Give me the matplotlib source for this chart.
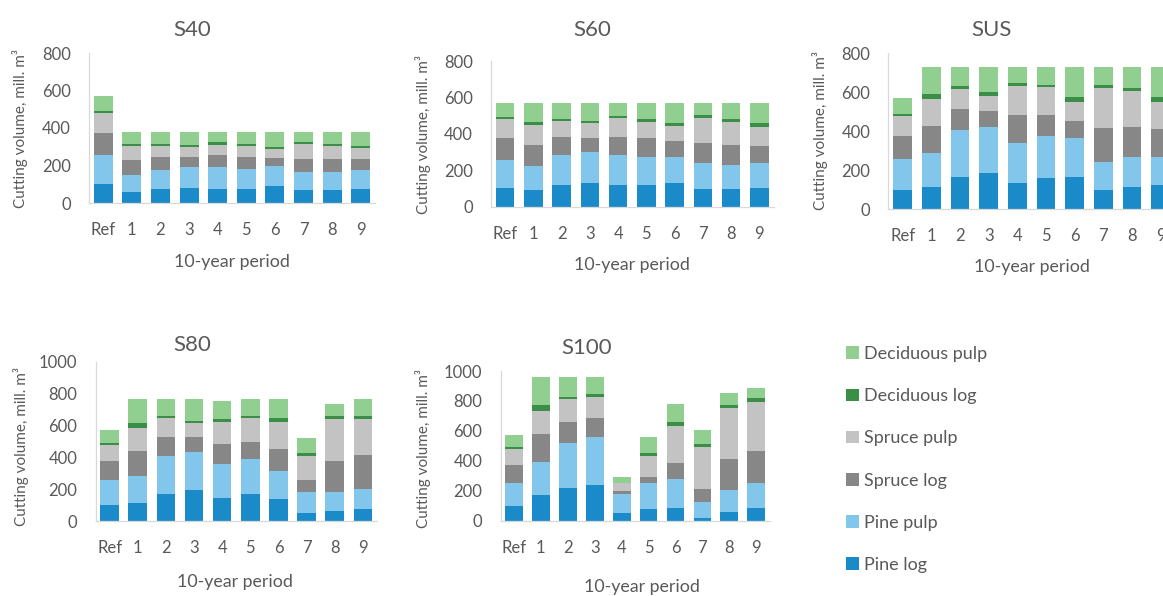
import matplotlib
matplotlib.use("Agg")
import matplotlib.pyplot as plt
import numpy as np

plt.rcParams['font.family'] = ['Lato', 'DejaVu Sans']

# ---- data (mill. m3 per 10-year period) ----
periods = ["Ref", "1", "2", "3", "4", "5", "6", "7", "8", "9"]
assortments = ["Pine log", "Pine pulp", "Spruce log", "Spruce pulp",
               "Deciduous log", "Deciduous pulp"]

s40_pine_log = [100, 60, 73, 82, 76, 76, 89, 68, 68, 76]
s40_pine_pulp = [155, 88, 105, 110, 116, 107, 107, 97, 97, 98]
s40_spruce_log = [120, 80, 67, 53, 62, 62, 44, 71, 71, 62]
s40_spruce_pulp = [105, 74, 57, 54, 57, 59, 48, 77, 68, 56]
s40_dec_log = [10, 11, 11, 10, 13, 11, 11, 12, 11, 10]
s40_dec_pulp = [80, 67, 67, 71, 56, 65, 81, 55, 65, 78]

s60_pine_log = [100, 92, 119, 128, 119, 119, 128, 99, 99, 104]
s60_pine_pulp = [155, 133, 165, 170, 165, 156, 147, 139, 130, 134]
s60_spruce_log = [120, 114, 100, 77, 100, 100, 85, 110, 110, 97]
s60_spruce_pulp = [105, 109, 88, 83, 101, 92, 83, 137, 128, 104]
s60_dec_log = [10, 18, 11, 12, 13, 12, 18, 18, 12, 19]
s60_dec_pulp = [80, 104, 87, 100, 72, 91, 109, 67, 91, 112]

sus_pine_log = [100, 115, 166, 183, 132, 161, 166, 98, 115, 123]
sus_pine_pulp = [155, 171, 240, 237, 205, 214, 197, 145, 154, 146]
sus_spruce_log = [120, 141, 106, 84, 146, 108, 91, 172, 154, 140]
sus_spruce_pulp = [105, 138, 103, 77, 149, 142, 98, 205, 183, 143]
sus_dec_log = [10, 26, 17, 19, 14, 14, 25, 17, 18, 25]
sus_dec_pulp = [80, 139, 98, 130, 84, 91, 153, 93, 106, 153]

s80_pine_log = [100, 111, 167, 195, 146, 167, 138, 52, 63, 73]
s80_pine_pulp = [155, 171, 241, 240, 212, 220, 176, 132, 121, 126]
s80_spruce_log = [120, 157, 121, 94, 125, 111, 136, 73, 193, 215]
s80_spruce_pulp = [105, 147, 115, 84, 140, 146, 173, 151, 263, 226]
s80_dec_log = [10, 31, 17, 17, 17, 17, 21, 17, 19, 21]
s80_dec_pulp = [80, 147, 103, 134, 113, 103, 120, 94, 73, 103]

s100_pine_log = [100, 171, 220, 238, 49, 76, 82, 16, 60, 82]
s100_pine_pulp = [155, 223, 301, 319, 129, 173, 196, 111, 145, 172]
s100_spruce_log = [120, 183, 140, 131, 22, 45, 105, 85, 205, 211]
s100_spruce_pulp = [105, 158, 150, 140, 52, 138, 252, 282, 340, 330]
s100_dec_log = [10, 38, 17, 16, 3, 18, 22, 16, 23, 27]
s100_dec_pulp = [80, 185, 130, 114, 39, 107, 122, 96, 78, 67]

colors = ["#1a8bc8", "#82c7eb", "#878787", "#c3c3c3", "#3b8e46", "#90cf90"]
text_color = "#595959"

W, H = 1163, 596
fig = plt.figure(figsize=(W / 100, H / 100), dpi=100)


def box(left, right, top, bottom):
    return [left / W, 1 - bottom / H, (right - left) / W, (bottom - top) / H]


panels = [
    dict(name="S40", series=[s40_pine_log, s40_pine_pulp, s40_spruce_log,
                             s40_spruce_pulp, s40_dec_log, s40_dec_pulp],
         rect=(89, 375, 53, 203), ymax=800, title=(192, 30),
         ylab=(20, 128), xlab=(232, 262)),
    dict(name="S60", series=[s60_pine_log, s60_pine_pulp, s60_spruce_log,
                             s60_spruce_pulp, s60_dec_log, s60_dec_pulp],
         rect=(491, 773.5, 61, 206.7), ymax=800, title=(592, 30),
         ylab=(423, 134), xlab=(632, 265)),
    dict(name="SUS", series=[sus_pine_log, sus_pine_pulp, sus_spruce_log,
                             sus_spruce_pulp, sus_dec_log, sus_dec_pulp],
         rect=(888.3, 1175, 53.3, 209), ymax=800, title=(991, 30),
         ylab=(820, 131), xlab=(1032, 267)),
    dict(name="S80", series=[s80_pine_log, s80_pine_pulp, s80_spruce_log,
                             s80_spruce_pulp, s80_dec_log, s80_dec_pulp],
         rect=(95.5, 377, 361.7, 521), ymax=1000, title=(192, 345),
         ylab=(21, 447), xlab=(235, 582)),
    dict(name="S100", series=[s100_pine_log, s100_pine_pulp, s100_spruce_log,
                              s100_spruce_pulp, s100_dec_log, s100_dec_pulp],
         rect=(500.5, 769.7, 371, 520.7), ymax=1000, title=(587, 348),
         ylab=(423, 448), xlab=(642, 587)),
]

x = np.arange(len(periods))
legend_handles = None
for p in panels:
    ax = fig.add_axes(box(*p["rect"]))
    bottom = np.zeros(len(periods))
    handles = []
    for vals, col, lab in zip(p["series"], colors, assortments):
        v = np.array(vals, dtype=float)
        h = ax.bar(x, v, width=0.66, bottom=bottom, color=col,
                   edgecolor="none", label=lab)
        handles.append(h)
        bottom += v
    if legend_handles is None:
        legend_handles = handles
    ax.set_xlim(-0.5, 9.5)
    ax.set_ylim(0, p["ymax"])
    ax.set_yticks(np.arange(0, p["ymax"] + 1, 200))
    ax.set_xticks(x)
    ax.set_xticklabels(periods)
    ax.tick_params(axis="both", length=0, labelsize=12, labelcolor=text_color)
    ax.tick_params(axis="x", pad=14)
    ax.tick_params(axis="y", pad=13)
    for s in ("top", "right"):
        ax.spines[s].set_visible(False)
    for s in ("left", "bottom"):
        ax.spines[s].set_color("#d9d9d9")
        ax.spines[s].set_linewidth(0.9)
    ax.set_facecolor("none")
    tx, ty = p["title"]
    fig.text(tx / W, 1 - ty / H, p["name"], ha="center", va="center",
             fontsize=16, color=text_color)
    lx, ly = p["ylab"]
    fig.text(lx / W, 1 - ly / H, "Cutting volume, mill. m³", rotation=90,
             ha="center", va="center", fontsize=11, color=text_color)
    xx, xy = p["xlab"]
    fig.text(xx / W, 1 - xy / H, "10-year period", ha="center", va="center",
             fontsize=12.8, color=text_color)

leg = fig.legend(legend_handles[::-1], assortments[::-1], loc="upper left",
                 bbox_to_anchor=(846 / W, 1 - 346 / H), frameon=False,
                 handlelength=0.7, handleheight=0.7, handletextpad=0.3,
                 labelspacing=1.45, borderpad=0, borderaxespad=0,
                 fontsize=13, labelcolor=text_color)

fig.savefig("out.png", dpi=100)
